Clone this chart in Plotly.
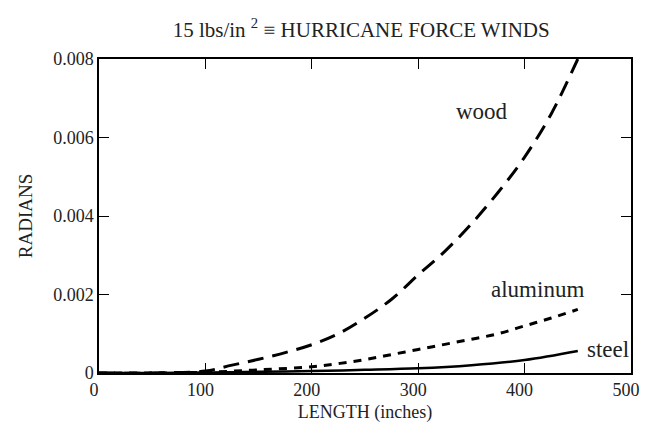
import plotly.graph_objects as go

# Data
length_wood = [0, 50, 100, 125, 150, 175, 200, 225, 250, 275, 300, 325, 350, 375, 400, 425, 450]
wood = [0, 0, 0.00005, 0.0002, 0.00035, 0.00052, 0.00072, 0.00100, 0.0014, 0.00188, 0.0025, 0.0031, 0.0038, 0.0046, 0.0055, 0.0066, 0.0080]

length_al = [0, 50, 100, 150, 200, 225, 250, 275, 300, 325, 350, 375, 400, 425, 450]
aluminum = [0, 0, 0.00002, 0.00008, 0.00016, 0.00024, 0.00034, 0.00047, 0.0006, 0.00073, 0.00086, 0.001, 0.0012, 0.0014, 0.00162]

length_steel = [0, 50, 100, 150, 200, 250, 300, 350, 400, 450]
steel = [0, 0, 0.00001, 0.00003, 0.00005, 0.00008, 0.00012, 0.0002, 0.00033, 0.00056]

x_ticks = [0, 100, 200, 300, 400, 500]
y_ticks = [0, 0.002, 0.004, 0.006, 0.008]
y_tick_labels = ["0", "0.002", "0.004", "0.006", "0.008"]

labels = ["wood", "aluminum", "steel"]
label_x = [360, 412, 478]
label_y = [0.00665, 0.00212, 0.00059]

FONT = "Liberation Serif, Times New Roman, serif"

fig = go.Figure()
fig.add_trace(go.Scatter(x=length_wood, y=wood, mode="lines", line_shape="spline",
                         line=dict(color="black", width=3, dash="16px,9px"),
                         hoverinfo="skip", showlegend=False))
fig.add_trace(go.Scatter(x=length_al, y=aluminum, mode="lines", line_shape="spline",
                         line=dict(color="black", width=3, dash="8px,7px"),
                         hoverinfo="skip", showlegend=False))
fig.add_trace(go.Scatter(x=length_steel, y=steel, mode="lines", line_shape="spline",
                         line=dict(color="black", width=2.5),
                         hoverinfo="skip", showlegend=False))

for t, lx, ly in zip(labels, label_x, label_y):
    fig.add_annotation(x=lx, y=ly, text=t, showarrow=False,
                       font=dict(family=FONT, size=23, color="#222"))

fig.update_layout(
    width=641, height=418,
    margin=dict(l=91, r=18, t=51, b=53, autoexpand=False),
    paper_bgcolor="white", plot_bgcolor="white",
    font=dict(family=FONT, color="#222"),
    title=dict(text="15 lbs/in <sup>2</sup> \u2261 HURRICANE FORCE WINDS",
               x=0.551, xanchor="center", y=0.949, yanchor="middle",
               font=dict(family=FONT, size=21, color="#222")),
)
fig.update_xaxes(range=[0, 500], tickvals=x_ticks, ticks="inside", ticklen=10,
                 tickwidth=1.2, tickcolor="black", showline=True, linecolor="black",
                 linewidth=1.5, mirror="ticks", showgrid=False, zeroline=False,
                 automargin=False, ticklabelshift=-5,
                 tickfont=dict(family=FONT, size=18, color="#222"),
                 title=dict(text="LENGTH (inches)", font=dict(family=FONT, size=18, color="#222"),
                            standoff=6))
fig.update_yaxes(range=[0, 0.008], tickvals=y_ticks, ticktext=y_tick_labels,
                 ticks="inside", ticklen=10, tickwidth=1.2, tickcolor="black",
                 showline=True, linecolor="black", linewidth=1.5, mirror="ticks",
                 showgrid=False, zeroline=False, automargin=False,
                 tickfont=dict(family=FONT, size=18, color="#222"),
                 title=dict(text="RADIANS", font=dict(family=FONT, size=19, color="#222"),
                            standoff=16))

fig.write_html("out.html")
